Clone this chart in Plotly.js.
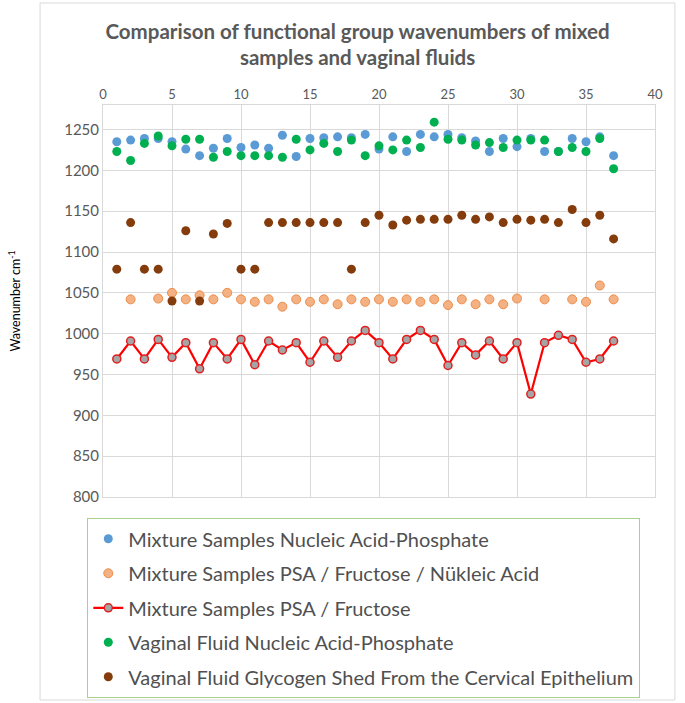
<!DOCTYPE html>
<html>
<head>
<meta charset="utf-8">
<script src="https://cdn.plot.ly/plotly-3.0.1.min.js"></script>
<style>
  html, body { margin: 0; padding: 0; background: #fff; }
  #chart { width: 685px; height: 703px; }
</style>
</head>
<body>
<div id="chart"></div>
<script>
const sampleNo = [1, 2, 3, 4, 5, 6, 7, 8, 9, 10, 11, 12, 13, 14, 15, 16, 17, 18, 19,
  20, 21, 22, 23, 24, 25, 26, 27, 28, 29, 30, 31, 32, 33, 34, 35, 36, 37];

const mixNucleic = [1235, 1237, 1239, 1239, 1235, 1226, 1218, 1227, 1239, 1228, 1231, 1227, 1243, 1217, 1239, 1240, 1241, 1240, 1244,
  1226, 1241, 1223, 1244, 1241, 1244, 1240, 1236, 1223, 1239, 1229, 1239, 1223, 1223, 1239, 1235, 1241, 1218];

const mixPsaFrucNuc = [null, 1042, null, 1043, 1050, 1042, 1047, 1042, 1050, 1042, 1039, 1042, 1033, 1042, 1039, 1042, 1036, 1042, 1039,
  1042, 1039, 1042, 1039, 1042, 1035, 1042, 1036, 1042, 1036, 1043, null, 1042, null, 1042, 1039, 1059, 1042];

const mixPsaFruc = [969, 991, 969, 993, 971, 989, 957, 989, 969, 993, 962, 991, 980, 989, 965, 991, 971, 991, 1004,
  989, 969, 993, 1004, 993, 961, 989, 974, 991, 969, 989, 926, 989, 998, 993, 965, 969, 991];

const vagNucleic = [1223, 1212, 1233, 1242, 1230, 1238, 1238, 1216, 1223, 1218, 1218, 1218, 1216, 1238, 1225, 1233, 1223, 1237, 1218,
  1230, 1225, 1237, 1228, 1259, 1238, 1237, 1231, 1234, 1228, 1237, 1237, 1237, 1223, 1228, 1223, 1239, 1202];

const vagGlycogen = [1079, 1136, 1079, 1079, 1040, 1126, 1040, 1122, 1135, 1079, 1079, 1136, 1136, 1136, 1136, 1136, 1136, 1079, 1136,
  1145, 1133, 1139, 1140, 1140, 1140, 1145, 1140, 1143, 1136, 1140, 1139, 1140, 1136, 1152, 1136, 1145, 1116];

const seriesNames = [
  "Mixture Samples Nucleic Acid-Phosphate",
  "Mixture Samples PSA / Fructose / Nükleic Acid",
  "Mixture Samples PSA / Fructose",
  "Vaginal Fluid Nucleic Acid-Phosphate",
  "Vaginal Fluid Glycogen Shed From the Cervical Epithelium"
];

const font = "Lato, 'Open Sans', sans-serif";

const traces = [
  {
    x: sampleNo, y: mixNucleic, name: seriesNames[0], legendgroup: "a",
    mode: "markers", type: "scatter",
    marker: { color: "#5b9bd5", size: 9 }
  },
  {
    x: sampleNo, y: mixPsaFrucNuc, name: seriesNames[1], legendgroup: "b",
    mode: "markers", type: "scatter",
    marker: { color: "#f4b183", size: 9, line: { color: "#ed8d4a", width: 1 } }
  },
  {
    x: sampleNo, y: mixPsaFruc, name: seriesNames[2], legendgroup: "c",
    mode: "lines+markers", type: "scatter",
    line: { color: "#ff0000", width: 2.2 },
    marker: { color: "#a5a5a5", size: 8, line: { color: "#e02020", width: 1.5 } }
  },
  {
    x: sampleNo, y: vagNucleic, name: seriesNames[3], legendgroup: "d",
    mode: "markers", type: "scatter",
    marker: { color: "#00b050", size: 9 }
  },
  {
    x: sampleNo, y: vagGlycogen, name: seriesNames[4], legendgroup: "e",
    mode: "markers", type: "scatter",
    marker: { color: "#843c0c", size: 9 }
  }
];

// paper spans y 105..703 px; plot area sits in its upper part (105..497 px),
// the legend lives inside the paper below it so it does not push margins
const layout = {
  width: 685,
  height: 703,
  margin: { l: 103, r: 30, t: 105, b: 0 },
  paper_bgcolor: "#ffffff",
  plot_bgcolor: "#ffffff",
  font: { family: font, color: "#595959" },
  title: {
    text: "<b>Comparison of functional group wavenumbers of mixed<br>samples and vaginal fluids</b>",
    font: { family: font, size: 20.5, color: "#595959" },
    x: 0.522, xanchor: "center",
    y: 0.945, yanchor: "top"
  },
  xaxis: {
    side: "top",
    range: [0, 40],
    dtick: 5,
    tick0: 0,
    showgrid: true,
    gridcolor: "#d9d9d9",
    zeroline: false,
    showline: true,
    mirror: true,
    linecolor: "#d9d9d9",
    ticks: "",
    tickfont: { family: font, size: 13, color: "#595959" }
  },
  yaxis: {
    domain: [0.3445, 1],
    range: [800, 1280],
    tickvals: [800, 850, 900, 950, 1000, 1050, 1100, 1150, 1200, 1250],
    showgrid: true,
    gridcolor: "#d9d9d9",
    zeroline: false,
    showline: true,
    mirror: true,
    linecolor: "#d9d9d9",
    ticks: "",
    tickfont: { family: font, size: 15, color: "#595959" },
    title: {
      text: "Wavenumber cm<sup>-1</sup>",
      font: { family: font, size: 12.5, color: "#000000" },
      standoff: 40
    }
  },
  legend: {
    x: -0.029, y: 0.3094,
    xanchor: "left", yanchor: "top",
    bordercolor: "#a9d18e",
    borderwidth: 1.3,
    bgcolor: "rgba(255,255,255,0)",
    tracegroupgap: 5.5,
    font: { family: font, size: 20, color: "#505050" }
  },
  shapes: [
    {
      type: "rect", xref: "paper", yref: "paper",
      x0: -0.114, x1: 1.036, y0: 0.005, y1: 1.1706,
      line: { color: "#d9d9d9", width: 1 },
      layer: "below"
    }
  ],
  showlegend: true
};

Plotly.newPlot("chart", traces, layout, { displayModeBar: false, staticPlot: true });
</script>
</body>
</html>
